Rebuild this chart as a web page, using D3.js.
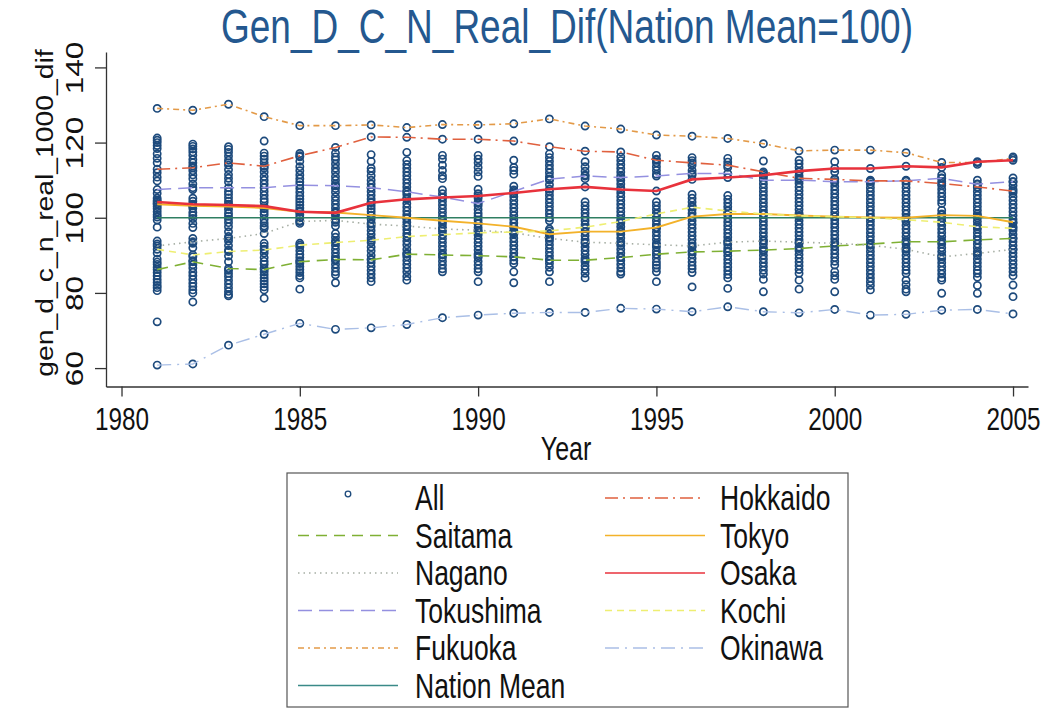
<!DOCTYPE html>
<html>
<head>
<meta charset="utf-8">
<script src="https://cdn.jsdelivr.net/npm/d3@7"></script>
<style>
  body { margin: 0; background: #fff; }
  text { font-family: "Liberation Sans", Arial, sans-serif; }
</style>
</head>
<body>
<div id="chart"></div>
<script>
// data
var years = [1981,1982,1983,1984,1985,1986,1987,1988,1989,1990,1991,1992,1993,1994,1995,1996,1997,1998,1999,2000,2001,2002,2003,2004,2005];
var xTicks = [1980,1985,1990,1995,2000,2005];
var yTicks = [60,80,100,120,140];

var hokkaido  = [112.9,113.3,114.6,113.7,116.5,118.7,121.5,121.4,120.9,120.9,120.4,118.9,117.7,117.5,115.3,114.6,114.0,112.2,110.5,110.2,109.8,109.8,109.1,108.2,107.1];
var saitama   = [86.2,88.3,86.5,86.2,88.3,88.9,88.8,90.3,90.1,89.9,89.6,88.7,88.7,89.4,90.3,90.9,91.1,91.4,91.8,92.5,93.0,93.6,93.6,94.1,94.5];
var tokyo     = [103.6,103.2,103.0,102.6,101.6,101.4,100.7,100.0,99.2,98.5,97.6,95.6,96.3,96.3,97.4,100.3,101.0,101.0,100.6,100.3,100.1,100.0,100.7,100.5,98.8];
var nagano    = [92.5,93.6,94.5,95.8,99.0,99.3,98.3,97.8,97.0,96.7,96.0,94.5,93.5,93.2,92.8,92.5,93.5,93.8,93.5,93.2,92.7,91.6,89.6,90.5,91.6];
var osaka     = [104.2,103.6,103.4,103.1,101.6,101.3,104.0,104.9,105.4,105.8,106.6,107.6,108.2,107.5,107.1,110.2,110.7,111.3,112.4,113.1,113.1,113.7,113.4,114.9,115.3];
var tokushima = [107.5,108.0,108.0,108.0,108.7,108.5,108.0,106.9,105.5,103.8,107.0,110.3,111.1,110.7,111.1,111.8,111.8,110.0,110.0,109.6,109.6,109.8,110.5,108.9,109.6];
var kochi     = [91.6,90.1,91.0,91.4,92.7,93.4,94.0,95.0,95.5,96.0,96.2,96.5,97.5,99.0,101.0,102.8,101.8,101.0,100.5,100.3,100.0,99.5,98.8,97.6,97.2];
var fukuoka   = [129.1,128.6,130.2,126.9,124.5,124.5,124.7,124.0,124.8,124.7,125.0,126.3,124.4,123.6,122.0,121.7,121.1,119.7,117.8,118.0,118.0,117.3,114.7,114.7,115.8];
var okinawa   = [60.8,61.1,66.1,69.0,71.9,70.3,70.7,71.6,73.4,74.1,74.6,74.8,74.8,75.9,75.7,75.0,76.3,75.0,74.7,75.6,74.1,74.3,75.4,75.6,74.4];
var nationMean = [100,100,100,100,100,100,100,100,100,100,100,100,100,100,100,100,100,100,100,100,100,100,100,100,100];

// the other prefectures, one list per year (1981..2005)
var otherPrefs = [
  [121.2,120.6,120.0,119.2,118.4,117.0,115.8,114.6,112.0,110.8,109.8,106.5,105.2,104.6,103.8,103.0,102.4,101.6,100.8,100.2,99.4,97.5,93.8,93.0,90.6,89.0,88.2,87.6,86.8,85.4,84.5,83.6,82.8,82.0,81.4,80.6,72.3],
  [119.6,119.0,118.3,117.5,116.6,115.5,114.6,113.8,112.5,111.4,110.4,109.0,107.5,105.2,104.4,103.2,102.5,101.4,100.6,99.8,98.5,97.4,94.5,93.2,92.0,89.6,88.6,87.5,86.6,85.5,84.6,83.6,82.6,81.7,80.8,80.0,77.6],
  [118.9,118.2,117.4,116.4,115.3,114.0,112.8,111.5,110.5,109.5,107.0,106.2,105.3,104.4,103.6,102.2,101.2,100.4,99.6,98.7,97.6,96.3,95.0,93.8,92.6,91.4,89.8,88.3,86.0,85.2,84.4,83.4,82.4,81.4,80.4,79.6,79.2],
  [120.4,117.2,116.4,115.6,114.6,113.2,112.2,111.0,110.0,109.0,107.0,106.0,105.0,104.2,102.4,101.6,100.8,99.6,98.6,97.8,97.2,93.2,92.4,90.6,89.4,88.4,87.6,86.6,85.6,84.8,84.0,83.2,82.4,81.6,80.8,78.6,91.6],
  [117.1,116.2,115.0,113.6,112.5,111.4,110.4,109.5,107.8,106.8,105.8,105.0,104.2,103.4,102.6,101.9,100.8,100.0,99.2,98.5,93.2,92.2,91.2,90.2,89.4,88.6,87.8,87.0,86.2,85.4,84.6,84.0,81.0],
  [117.2,116.2,115.4,114.3,113.2,112.2,111.0,110.0,109.0,107.8,106.8,105.6,104.6,103.6,102.6,101.6,100.6,99.6,98.8,97.8,95.8,94.8,93.8,92.6,91.6,90.6,89.6,88.6,87.6,86.6,85.6,84.8,82.7],
  [116.8,115.0,113.2,112.4,111.2,110.0,109.0,108.0,107.0,106.0,105.0,104.2,103.2,102.4,101.6,100.6,99.6,98.6,97.6,96.6,95.6,94.6,93.4,92.2,91.2,90.0,89.0,88.0,87.0,86.0,85.0,84.0,83.0],
  [117.4,115.2,114.2,113.2,112.2,111.2,110.2,109.2,108.2,107.2,106.2,105.2,103.8,102.8,101.8,100.8,99.8,98.8,97.8,96.8,95.8,94.8,93.8,92.8,91.6,90.6,89.6,88.6,87.6,86.6,85.6,84.4,83.4],
  [116.6,115.6,114.0,112.6,111.2,110.4,107.4,106.4,105.4,104.4,103.4,102.4,101.4,100.4,99.4,98.4,97.4,96.4,95.4,94.4,93.4,92.4,91.4,90.4,89.4,88.4,87.4,86.4,85.6],
  [116.6,115.6,114.6,113.4,112.2,111.0,107.6,106.4,105.2,104.2,103.2,102.2,101.2,100.4,99.4,98.4,97.4,96.4,95.4,94.4,93.4,92.4,91.4,90.4,89.4,88.4,87.4,86.4,85.6,83.0],
  [115.3,113.4,112.6,111.6,108.4,107.4,106.4,105.6,104.6,103.6,102.6,101.6,100.6,99.6,98.6,97.6,96.6,95.6,94.6,93.6,92.6,91.6,90.6,89.6,88.6,87.8,85.6,82.7],
  [117.0,116.0,115.0,114.0,113.0,112.0,111.0,110.0,108.8,107.0,106.0,105.0,104.0,103.0,102.0,101.0,100.0,99.2,97.0,95.8,94.8,93.8,92.8,91.8,90.8,89.8,88.8,87.8,86.8,85.6,83.0],
  [114.9,113.6,112.4,111.4,110.4,104.2,103.2,102.2,101.2,100.2,99.2,98.2,97.2,96.2,95.2,94.2,93.2,92.2,91.2,90.2,89.2,88.2,87.2,86.2,85.2,84.0],
  [116.2,115.2,114.2,113.2,112.2,111.2,110.0,109.0,108.0,106.6,105.6,104.6,103.6,102.6,101.6,100.6,99.6,98.6,97.6,96.6,95.6,94.6,93.6,92.6,91.6,90.6,89.6,88.6,87.6,86.6,85.6,85.0],
  [116.6,115.6,114.6,113.6,112.6,111.6,104.2,103.2,102.2,101.2,100.2,99.2,98.2,97.2,96.2,95.2,94.2,93.2,92.2,91.2,90.2,89.2,88.2,87.4,86.6,85.6,83.0],
  [116.0,115.2,114.0,112.6,111.4,106.2,105.2,104.2,103.2,102.2,101.2,100.2,99.2,98.2,97.2,96.2,95.2,94.2,93.2,92.2,91.2,90.2,89.2,88.2,87.2,86.4,85.4,81.6],
  [115.8,114.8,113.4,105.9,104.9,103.9,102.9,101.9,100.9,99.9,98.9,97.9,96.9,95.9,94.9,93.9,92.9,91.9,90.9,89.9,88.9,87.9,86.9,85.9,84.9,84.0,81.2],
  [115.1,111.8,110.8,109.0,108.0,107.0,106.0,105.0,104.0,103.0,102.0,101.0,100.0,99.0,98.0,97.0,96.0,95.0,94.0,93.0,92.0,91.0,90.0,89.0,88.0,87.0,86.0,85.0,83.6,80.3],
  [115.3,114.4,113.4,112.2,111.2,110.2,109.2,108.2,107.2,106.2,105.2,104.2,103.2,102.2,101.2,100.2,99.2,98.2,97.2,96.2,95.2,94.2,93.2,92.2,91.2,90.2,89.2,88.2,87.2,86.2,85.2,83.4,81.0],
  [114.9,112.2,110.4,109.4,108.4,107.4,106.4,105.4,104.4,103.4,102.4,101.4,100.4,99.4,98.4,97.4,96.4,95.4,94.4,93.4,92.4,91.4,90.4,89.4,88.4,87.4,85.6,84.6,83.6,80.3],
  [110.0,109.0,108.0,107.0,106.0,105.0,104.0,103.0,102.0,101.0,100.0,99.0,98.0,97.0,96.0,95.0,94.0,93.0,92.0,91.0,90.0,89.0,88.0,87.0,86.0,85.0,84.0,83.0,82.0,80.8],
  [110.0,109.0,108.0,107.0,106.0,105.0,104.0,103.0,102.0,101.0,100.0,99.0,98.0,97.0,96.0,95.0,94.0,93.0,92.0,91.0,90.0,89.0,88.0,87.0,86.0,85.2,83.4,82.2,81.0,80.3],
  [111.4,110.6,109.6,108.6,107.6,106.6,105.6,104.6,103.8,102.0,101.0,100.0,99.0,98.0,97.0,96.0,95.0,94.0,93.0,92.0,91.0,90.0,89.0,88.0,87.0,86.0,85.0,84.0,83.4,79.9],
  [114.2,110.0,109.0,108.0,107.0,106.0,105.0,104.0,103.0,102.0,101.0,100.0,99.0,98.0,97.0,96.0,95.0,94.0,93.0,92.0,91.0,90.0,89.0,88.0,87.0,86.0,85.2,84.2,82.0,79.9],
  [116.2,110.6,109.6,108.6,107.6,106.6,105.6,104.6,103.6,102.6,101.6,100.6,99.6,98.6,97.6,96.6,95.6,94.6,93.6,92.6,91.6,90.6,89.6,88.6,87.6,86.6,85.6,84.6,82.1,79.0]
];

// chart
var width = 1049, height = 712;
var stretch = 1.3;   // text in the scan is taller than it is wide

var series = [
  {name: "Saitama",     values: saitama,    color: "#7fb034", dash: "11,7",      w: 1.6},
  {name: "Nagano",      values: nagano,     color: "#a6aea4", dash: "1.5,4",     w: 1.6},
  {name: "Tokushima",   values: tokushima,  color: "#9490e0", dash: "14,7",      w: 1.5},
  {name: "Fukuoka",     values: fukuoka,    color: "#e39a48", dash: "6,4,2,4",   w: 1.6},
  {name: "Nation Mean", values: nationMean, color: "#2f7f62", dash: null,        w: 1.6},
  {name: "Hokkaido",    values: hokkaido,   color: "#e0603e", dash: "13,5,2,5",  w: 1.6},
  {name: "Tokyo",       values: tokyo,      color: "#f3b22a", dash: null,        w: 1.9},
  {name: "Osaka",       values: osaka,      color: "#e8323c", dash: null,        w: 2.6},
  {name: "Kochi",       values: kochi,      color: "#eeee72", dash: "7,5",       w: 1.6},
  {name: "Okinawa",     values: okinawa,    color: "#aabfe6", dash: "14,6,2,6",  w: 1.4}
];

var allPoints = [];
years.forEach(function(yr, i) {
  otherPrefs[i].forEach(function(v) { allPoints.push({year: yr, value: v}); });
  series.forEach(function(s) {
    if (s.name !== "Nation Mean") allPoints.push({year: yr, value: s.values[i]});
  });
});

var x = d3.scaleLinear().domain([1979.565, 2005.42]).range([106, 1028]);
var y = d3.scaleLinear().domain([55.1, 144.1]).range([386.5, 52]);

var svg = d3.select("#chart").append("svg")
  .attr("width", width)
  .attr("height", height);

svg.append("rect").attr("width", width).attr("height", height).attr("fill", "#fff");

// title
svg.append("text")
  .attr("transform", "translate(567,43) scale(1," + stretch + ")")
  .attr("text-anchor", "middle")
  .style("font-size", "37px")
  .style("fill", "#24588f")
  .text("Gen_D_C_N_Real_Dif(Nation Mean=100)");

// axes
var xAxis = svg.append("g")
  .attr("transform", "translate(0,386.5)")
  .call(d3.axisBottom(x).tickValues(xTicks).tickFormat(d3.format("d")).tickSize(10).tickSizeOuter(0));
xAxis.selectAll("text")
  .attr("y", null).attr("dy", null)
  .attr("transform", "translate(0,43.5) scale(1," + stretch + ")")
  .style("font-size", "24.3px")
  .style("fill", "#111");

var yAxis = svg.append("g")
  .attr("transform", "translate(106,0)")
  .call(d3.axisLeft(y).tickValues(yTicks).tickSize(11).tickSizeOuter(0));
yAxis.selectAll("text")
  .attr("x", null).attr("dy", null)
  .attr("text-anchor", "middle")
  .attr("transform", "translate(-23,0) rotate(-90) scale(" + stretch + ",1)")
  .style("font-size", "24.3px")
  .style("fill", "#111");

svg.selectAll(".domain, .tick line").attr("stroke", "#333").attr("stroke-width", 1.3);

svg.append("text")
  .attr("transform", "translate(566,460) scale(1," + stretch + ")")
  .attr("text-anchor", "middle")
  .style("font-size", "25px")
  .style("fill", "#111")
  .text("Year");

svg.append("text")
  .attr("transform", "translate(53,213) rotate(-90) scale(1.18,1)")
  .attr("text-anchor", "middle")
  .style("font-size", "24px")
  .style("fill", "#111")
  .text("gen_d_c_n_real_1000_dif");

// scatter of all prefectures
svg.append("g").selectAll("circle")
  .data(allPoints)
  .enter().append("circle")
  .attr("cx", function(d) { return x(d.year); })
  .attr("cy", function(d) { return y(d.value); })
  .attr("r", 3.6)
  .attr("fill", "none")
  .attr("stroke", "#1d4a7c")
  .attr("stroke-width", 1.7);

// prefecture lines
var line = d3.line()
  .x(function(d, i) { return x(years[i]); })
  .y(function(d) { return y(d); });

svg.append("g").selectAll("path")
  .data(series)
  .enter().append("path")
  .attr("d", function(s) { return line(s.values); })
  .attr("fill", "none")
  .attr("stroke", function(s) { return s.color; })
  .attr("stroke-width", function(s) { return s.w; })
  .attr("stroke-dasharray", function(s) { return s.dash; });

// legend
var legend = svg.append("g");
legend.append("rect")
  .attr("x", 287).attr("y", 473)
  .attr("width", 561).attr("height", 234)
  .attr("fill", "#fff")
  .attr("stroke", "#555")
  .attr("stroke-width", 1.2);

var rowY = [498, 535.5, 573, 610.5, 648, 685.5];
var leftItems = [{name: "All", marker: true}].concat(series.slice(0, 5));
var rightItems = series.slice(5);

function drawItem(item, col, row) {
  var x0 = col === 0 ? 298 : 605;
  var tx = col === 0 ? 415 : 720;
  var yy = rowY[row];
  if (item.marker) {
    legend.append("circle")
      .attr("cx", x0 + 50).attr("cy", yy - 4)
      .attr("r", 2.8)
      .attr("fill", "none")
      .attr("stroke", "#1d4a7c")
      .attr("stroke-width", 1.3);
  } else {
    legend.append("line")
      .attr("x1", x0).attr("x2", x0 + 100)
      .attr("y1", yy).attr("y2", yy)
      .attr("stroke", item.name === "Nation Mean" ? "#3a8a88" : item.color)
      .attr("stroke-width", Math.min(item.w, 1.6))
      .attr("stroke-dasharray", item.dash);
  }
  legend.append("text")
    .attr("transform", "translate(" + tx + "," + (yy + 12) + ") scale(1," + stretch + ")")
    .style("font-size", "26.5px")
    .style("fill", "#111")
    .text(item.name);
}
leftItems.forEach(function(it, i) { drawItem(it, 0, i); });
rightItems.forEach(function(it, i) { drawItem(it, 1, i); });
</script>
</body>
</html>
